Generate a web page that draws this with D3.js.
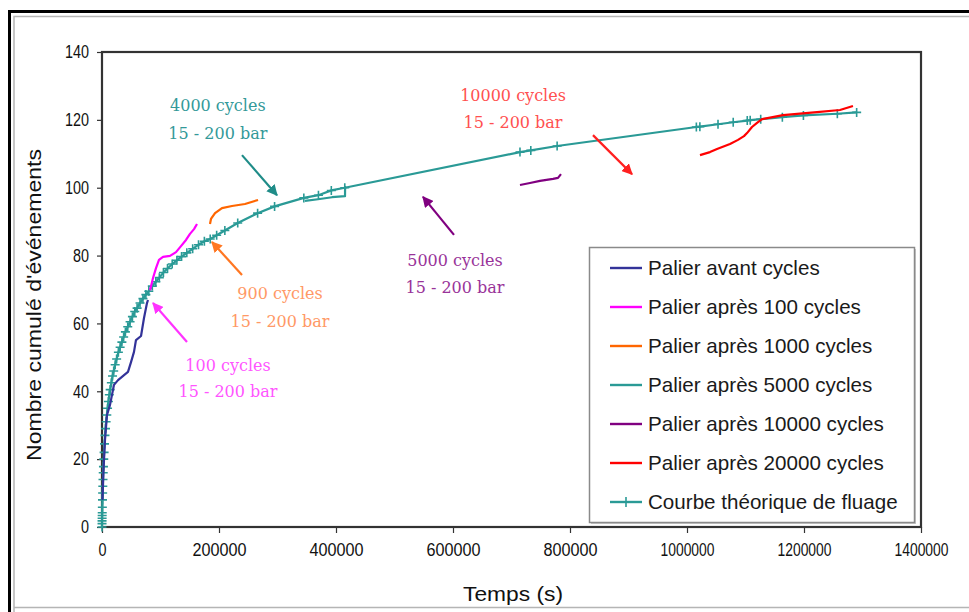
<!DOCTYPE html>
<html><head><meta charset="utf-8">
<script src="https://cdn.jsdelivr.net/npm/d3@7"></script>
<style>body{margin:0;background:#fff}svg{display:block}</style>
</head><body><svg id="c" width="969" height="612"></svg>
<script>
// ---- data ----
const xTicks = [0,200000,400000,600000,800000,1000000,1200000,1400000];
const yTicks = [0,20,40,60,80,100,120,140];

const theoT = [0,50,100,200,300,400,600,850,1100,1400,1700,2100,2500,3000,3600,4300,5100,6000,7000,8200,9500,11000,12500,14000,16000,18000,20000,22500,25000,28000,31000,34000,37000,40000,44000,48000,52000,56000,60000,65000,70000,75000,80000,86000,92000,98000,105000,112000,120000,128000,136000,145000,155000,165000,175000,185000,196000,210000,232000,266000,295000,345000,370000,392000,415000,714500,733000,778000,1016000,1022000,1053000,1079000,1103000,1108000,1126000,1163000,1199000,1257000,1290000];
const theoN = [0,1,1.8,2.6,3.4,4.2,5.8,8,10,12,14,16,17.8,20,22,24.5,27,29,31,33,35,37,39,40.5,42.5,44.5,46,47.8,49.5,51.5,53,54.5,56,57.5,59,60.5,62,63.5,64.5,66,67.3,68.5,69.5,71,72.3,73.5,75,76.2,77.5,78.6,79.7,80.8,82,83.2,84.2,84.9,86,87.4,89.6,92.5,94.5,97,97.8,99.2,100,110.5,111,112.3,117.9,118,118.7,119.3,119.8,119.9,120.2,120.8,121.3,121.8,122.2];

const avantT = [850,2600,5100,8500,13700,20500,27400,44400,49600,54700,58100,66700,71800,76900,78600];
const avantN = [8,16.8,25.6,33,36,41.9,43.3,45.7,48.6,51.6,55.1,56.3,61.6,66,66.9];

const c100T = [82100,87200,92300,97400,104300,116200,126500,135000,143600,150400,157300,162400];
const c100N = [69.8,73.4,76.3,78.7,79.6,79.9,81,82.8,84.6,86.4,87.8,89.3];

const c1000T = [184600,186300,193200,205100,222200,244400,266700];
const c1000N = [89.3,90.8,92.5,94,94.6,95.2,96.4];

const c5000T = [347000,369200,393200,415400,415600];
const c5000N = [96.1,96.6,97.2,97.5,100.5];

const c10000T = [714500,731600,748700,771000,779500,784600];
const c10000N = [100.8,101.4,102,102.6,102.9,104];

const c20000T = [1022200,1039300,1051300,1073500,1087200,1097400,1102600,1111100,1119700,1128200,1164100,1222200,1261500,1283700];
const c20000N = [109.6,110.5,111.4,112.9,114.1,115.2,116.1,117.9,119.1,120.2,121.4,122.3,122.9,124.1];

const legendLabels = ["Palier avant cycles","Palier après 100 cycles","Palier après 1000 cycles","Palier après 5000 cycles","Palier après 10000 cycles","Palier après 20000 cycles","Courbe théorique de fluage"];
const colors = ["#333399","#ff00ff","#ff6600","#2a9a96","#800080","#ff0000","#2a9a96"];

const annoText1 = ["4000 cycles","10000 cycles","5000 cycles","900 cycles","100 cycles"];
const annoText2 = ["15 - 200 bar","15 - 200 bar","15 - 200 bar","15 - 200 bar","15 - 200 bar"];
const annoT = [198000,702600,603400,304300,215400];
const annoN1 = [122.6,125.6,76.9,67.2,46.0];
const annoN2 = [114.4,117.6,69.0,58.9,38.3];
const arrowFromT = [239300,839300,601700,239300,145300];
const arrowFromN = [109.6,115.5,86.1,74.3,54.5];
const arrowToT = [299100,906000,548700,188000,87200];
const arrowToN = [97.8,104.0,97.3,84.0,66.0];
const annoColors = ["#339999","#ff5050","#993399","#ff9966","#ff55ff"];
const arrowColors = ["#1f8c88","#ff2020","#800080","#ff7722","#ff33ff"];

// ---- drawing ----
const svg = d3.select("#c");
svg.append("rect").attr("width",969).attr("height",612).attr("fill","#fff");
svg.append("path").attr("d","M9.5,612 V11.5 H969").attr("fill","none").attr("stroke","#000").attr("stroke-width",3);
svg.append("path").attr("d","M14,612 V16.5 H969").attr("fill","none").attr("stroke","#b5b5b5").attr("stroke-width",1.5);
svg.append("path").attr("d","M14,607.5 H969").attr("fill","none").attr("stroke","#b5b5b5").attr("stroke-width",1.5);

const x = d3.scaleLinear().domain([0,1400000]).range([102,921]);
const y = d3.scaleLinear().domain([0,140]).range([527,52]);

const font = "'Liberation Sans', Arial, sans-serif";
const xAxis = svg.append("g").attr("transform","translate(0,527)")
  .call(d3.axisBottom(x).tickValues(xTicks).tickFormat(d3.format("d")).tickSize(6).tickPadding(10));
const yAxis = svg.append("g").attr("transform","translate(102,0)")
  .call(d3.axisLeft(y).tickValues(yTicks).tickSize(5).tickPadding(8));
[xAxis,yAxis].forEach(g=>{
  g.attr("font-size",18);
  g.select(".domain").remove();
  g.selectAll(".tick line").attr("stroke","#333").attr("stroke-width",1.2);
  g.selectAll(".tick text").attr("font-family",font).attr("font-size",18).attr("fill","#111");
});
xAxis.selectAll(".tick text").attr("textLength",54).attr("lengthAdjust","spacingAndGlyphs")
  .filter(d=>d===0).attr("textLength",8);
yAxis.selectAll(".tick text").each(function(d){
  const n = String(d).length;
  d3.select(this).attr("textLength",n*8).attr("lengthAdjust","spacingAndGlyphs");
});
svg.append("rect").attr("x",102).attr("y",52).attr("width",819).attr("height",475)
  .attr("fill","none").attr("stroke","#333").attr("stroke-width",2.2);

svg.append("text").attr("x",513).attr("y",601).attr("text-anchor","middle")
  .attr("font-family",font).attr("font-size",21).attr("fill","#111")
  .attr("textLength",100).attr("lengthAdjust","spacingAndGlyphs").text("Temps (s)");
svg.append("text").attr("transform","translate(41,305) rotate(-90)").attr("text-anchor","middle")
  .attr("font-family",font).attr("font-size",21).attr("fill","#111")
  .attr("textLength",312).attr("lengthAdjust","spacingAndGlyphs").text("Nombre cumulé d'événements");

const line = d3.line().x(d=>x(d[0])).y(d=>y(d[1]));
const zipS = (T,N)=>T.map((t,i)=>[t,N[i]]);

const series = [zipS(avantT,avantN),zipS(c100T,c100N),zipS(c1000T,c1000N),zipS(c5000T,c5000N),zipS(c10000T,c10000N),zipS(c20000T,c20000N)];
const theo = zipS(theoT,theoN);

svg.append("path").datum(theo).attr("d",line).attr("fill","none").attr("stroke",colors[6]).attr("stroke-width",2.2);
svg.append("g").selectAll("path").data(theo).join("path")
  .attr("d","M-4.5,0H4.5M0,-4.5V4.5").attr("transform",d=>`translate(${x(d[0])},${y(d[1])})`)
  .attr("stroke",colors[6]).attr("stroke-width",1.6).attr("fill","none");

series.forEach((s,i)=>{
  svg.append("path").datum(s).attr("d",line).attr("fill","none").attr("stroke",colors[i]).attr("stroke-width",2.2).attr("stroke-linejoin","round");
});

const defs = svg.append("defs");
arrowColors.forEach((c,i)=>{
  defs.append("marker").attr("id","ah"+i).attr("viewBox","0 0 10 10").attr("refX",9).attr("refY",5)
    .attr("markerWidth",5).attr("markerHeight",5).attr("orient","auto").attr("markerUnits","strokeWidth")
    .append("path").attr("d","M0,0 L10,5 L0,10 z").attr("fill",c);
});
annoText1.forEach((t,i)=>{
  const g = svg.append("g").attr("font-family","'DejaVu Serif', 'Liberation Serif', serif").attr("font-size",16).attr("fill",annoColors[i]).attr("text-anchor","middle");
  g.append("text").attr("x",x(annoT[i])).attr("y",y(annoN1[i])).text(t);
  g.append("text").attr("x",x(annoT[i])).attr("y",y(annoN2[i])).text(annoText2[i]);
  svg.append("line").attr("x1",x(arrowFromT[i])).attr("y1",y(arrowFromN[i]))
    .attr("x2",x(arrowToT[i])).attr("y2",y(arrowToN[i]))
    .attr("stroke",arrowColors[i]).attr("stroke-width",2.2).attr("marker-end",`url(#ah${i})`);
});

const lg = svg.append("g");
lg.append("rect").attr("x",591).attr("y",249).attr("width",325).attr("height",275).attr("fill","#c8c8c8");
lg.append("rect").attr("x",589.5).attr("y",247.5).attr("width",325).attr("height",275).attr("fill","#fff").attr("stroke","#8a8a8a").attr("stroke-width",1.5);
legendLabels.forEach((l,i)=>{
  const yy = 268 + i*39;
  lg.append("line").attr("x1",610).attr("x2",642).attr("y1",yy).attr("y2",yy).attr("stroke",colors[i]).attr("stroke-width",2.4);
  if(i===6) lg.append("path").attr("d",`M626,${yy-5}V${yy+5}`).attr("stroke",colors[i]).attr("stroke-width",1.6);
  lg.append("text").attr("x",648).attr("y",yy+7).attr("font-family",font).attr("font-size",20.6).attr("fill","#1a1a1a").text(l);
});
</script></body></html>
